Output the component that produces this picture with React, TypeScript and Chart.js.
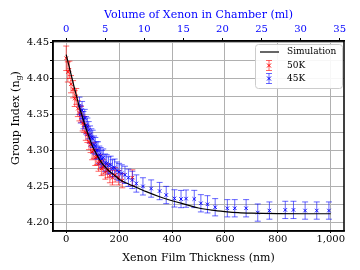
import React, { useEffect, useRef } from 'react';
import { Chart, registerables } from 'chart.js';

Chart.register(...registerables);

// ---- data ----
const simX = [0, 10, 20, 30, 40, 50, 60, 70, 80, 90, 100, 110, 120, 130, 140, 150, 160, 170, 180, 190, 200, 225, 250, 275, 300, 350, 400, 450, 500, 550, 600, 650, 700, 800, 900, 1000];
const simY = [4.433, 4.418, 4.403, 4.388, 4.374, 4.360, 4.348, 4.336, 4.325, 4.315, 4.305, 4.298, 4.291, 4.285, 4.280, 4.276, 4.272, 4.269, 4.266, 4.263, 4.260, 4.255, 4.251, 4.247, 4.243, 4.236, 4.230, 4.225, 4.220, 4.217, 4.215, 4.2135, 4.2128, 4.2122, 4.212, 4.212];

const k50X = [0, 6, 12, 18, 26, 32, 38, 44, 50, 56, 62, 68, 74, 80, 86, 92, 98, 104, 110, 116, 122, 128, 134, 140, 148, 156, 165, 175, 185, 198, 212, 250];
const k50Y = [4.428, 4.409, 4.412, 4.392, 4.385, 4.372, 4.375, 4.358, 4.352, 4.350, 4.338, 4.336, 4.325, 4.322, 4.312, 4.308, 4.298, 4.300, 4.290, 4.291, 4.282, 4.284, 4.275, 4.277, 4.270, 4.272, 4.265, 4.262, 4.266, 4.262, 4.258, 4.262];
const k50Err = [0.017, 0.014, 0.012, 0.012, 0.012, 0.011, 0.011, 0.011, 0.011, 0.011, 0.011, 0.011, 0.011, 0.011, 0.011, 0.011, 0.011, 0.011, 0.011, 0.011, 0.011, 0.010, 0.010, 0.010, 0.010, 0.010, 0.010, 0.010, 0.010, 0.010, 0.010, 0.011];

const k45X = [50, 55, 60, 65, 70, 75, 80, 85, 90, 95, 100, 105, 110, 115, 120, 125, 130, 135, 140, 147, 153, 160, 168, 175, 183, 192, 200, 210, 222, 235, 250, 265, 290, 321, 353, 378, 409, 434, 453, 484, 509, 534, 563, 609, 637, 680, 724, 768, 828, 859, 903, 947, 993];
const k45Y = [4.362, 4.350, 4.356, 4.342, 4.345, 4.335, 4.333, 4.328, 4.322, 4.318, 4.316, 4.308, 4.306, 4.300, 4.300, 4.294, 4.292, 4.288, 4.290, 4.283, 4.282, 4.279, 4.280, 4.275, 4.276, 4.272, 4.270, 4.268, 4.266, 4.262, 4.259, 4.254, 4.250, 4.247, 4.2435, 4.238, 4.2333, 4.2324, 4.233, 4.2325, 4.2265, 4.2251, 4.221, 4.2196, 4.2196, 4.2196, 4.2136, 4.2164, 4.2173, 4.2173, 4.2164, 4.2164, 4.2164];
const k45Err = [0.012, 0.012, 0.012, 0.012, 0.012, 0.012, 0.012, 0.012, 0.012, 0.012, 0.012, 0.012, 0.012, 0.012, 0.012, 0.012, 0.012, 0.012, 0.012, 0.012, 0.012, 0.012, 0.012, 0.012, 0.012, 0.012, 0.012, 0.012, 0.012, 0.012, 0.012, 0.012, 0.012, 0.012, 0.012, 0.012, 0.012, 0.012, 0.012, 0.012, 0.012, 0.012, 0.012, 0.012, 0.012, 0.012, 0.012, 0.012, 0.012, 0.012, 0.012, 0.012, 0.012];

const seriesLabels = ['Simulation', '50K', '45K'];
const xTitle = 'Xenon Film Thickness (nm)';
const x2Title = 'Volume of Xenon in Chamber (ml)';
const yTitleMain = 'Group Index (n';
const yTitleSub = 'g';
const yTitleEnd = ')';
const mlPerNm = 0.03386;

const SERIF = "'DejaVu Serif', serif";

const errorBarPlugin = {
  id: 'errorBars',
  beforeDatasetsDraw(chart: any) {
    const { ctx, chartArea, scales } = chart;
    const xs = scales.x;
    const ys = scales.y;
    ctx.save();
    ctx.beginPath();
    ctx.rect(chartArea.left, chartArea.top, chartArea.right - chartArea.left, chartArea.bottom - chartArea.top);
    ctx.clip();
    chart.data.datasets.forEach((ds: any) => {
      if (!ds.errors) return;
      ctx.strokeStyle = ds.errColor;
      ctx.lineWidth = 1;
      ds.data.forEach((p: any, i: number) => {
        const e = ds.errors[i];
        const px = xs.getPixelForValue(p.x);
        const y1 = ys.getPixelForValue(p.y - e);
        const y2 = ys.getPixelForValue(p.y + e);
        ctx.beginPath();
        ctx.moveTo(px, y1);
        ctx.lineTo(px, y2);
        ctx.moveTo(px - 3, y1);
        ctx.lineTo(px + 3, y1);
        ctx.moveTo(px - 3, y2);
        ctx.lineTo(px + 3, y2);
        ctx.stroke();
      });
    });
    ctx.restore();
  },
};

const frameLegendPlugin = {
  id: 'frameLegend',
  afterDraw(chart: any) {
    const { ctx, chartArea } = chart;
    ctx.save();
    // frame
    ctx.strokeStyle = '#000';
    ctx.lineWidth = 1.5;
    ctx.strokeRect(chartArea.left, chartArea.top, chartArea.right - chartArea.left, chartArea.bottom - chartArea.top);

    // y title with subscript
    ctx.fillStyle = '#000';
    ctx.translate(15, 118);
    ctx.rotate(-Math.PI / 2);
    const mainFont = `11px ${SERIF}`;
    const subFont = `8px ${SERIF}`;
    ctx.font = mainFont;
    const w1 = ctx.measureText(yTitleMain).width;
    const w3 = ctx.measureText(yTitleEnd).width;
    ctx.font = subFont;
    const w2 = ctx.measureText(yTitleSub).width;
    const total = w1 + w2 + w3;
    let cx = -total / 2;
    ctx.textBaseline = 'alphabetic';
    ctx.textAlign = 'left';
    ctx.font = mainFont;
    ctx.fillText(yTitleMain, cx, 4);
    cx += w1;
    ctx.font = subFont;
    ctx.fillText(yTitleSub, cx, 6);
    cx += w2;
    ctx.font = mainFont;
    ctx.fillText(yTitleEnd, cx, 4);
    ctx.restore();

    // legend
    ctx.save();
    const bx = 255, by = 44, bw = 87, bh = 44;
    ctx.beginPath();
    ctx.roundRect(bx + 0.5, by + 0.5, bw, bh, 3);
    ctx.fillStyle = 'rgba(255,255,255,0.9)';
    ctx.fill();
    ctx.strokeStyle = '#cccccc';
    ctx.lineWidth = 1;
    ctx.stroke();

    ctx.font = `9px ${SERIF}`;
    ctx.fillStyle = '#000';
    ctx.textBaseline = 'middle';
    ctx.textAlign = 'left';
    const rows = [52, 65.5, 78.5];
    // simulation line
    ctx.strokeStyle = '#000';
    ctx.lineWidth = 1.2;
    ctx.beginPath();
    ctx.moveTo(260, rows[0]);
    ctx.lineTo(279, rows[0]);
    ctx.stroke();
    ctx.fillText(seriesLabels[0], 287, rows[0]);
    const icons = [
      { c: 'rgba(255,0,0,0.6)', m: 'rgba(255,0,0,1)', y: rows[1], t: seriesLabels[1] },
      { c: 'rgba(0,0,255,0.6)', m: 'rgba(0,0,255,1)', y: rows[2], t: seriesLabels[2] },
    ];
    icons.forEach((ic) => {
      const px = 269;
      ctx.strokeStyle = ic.c;
      ctx.lineWidth = 1;
      ctx.beginPath();
      ctx.moveTo(px, ic.y - 5);
      ctx.lineTo(px, ic.y + 5);
      ctx.moveTo(px - 3, ic.y - 5);
      ctx.lineTo(px + 3, ic.y - 5);
      ctx.moveTo(px - 3, ic.y + 5);
      ctx.lineTo(px + 3, ic.y + 5);
      ctx.stroke();
      ctx.strokeStyle = ic.m;
      ctx.beginPath();
      ctx.moveTo(px - 2, ic.y - 2);
      ctx.lineTo(px + 2, ic.y + 2);
      ctx.moveTo(px - 2, ic.y + 2);
      ctx.lineTo(px + 2, ic.y - 2);
      ctx.stroke();
      ctx.fillStyle = '#000';
      ctx.fillText(ic.t, 287, ic.y);
    });
    ctx.restore();
  },
};

export default function App() {
  const ref = useRef<HTMLCanvasElement>(null);

  useEffect(() => {
    document.body.style.margin = '0';
    const canvas = ref.current;
    if (!canvas) return;

    const simData = simX.map((x, i) => ({ x, y: simY[i] }));
    const d50 = k50X.map((x, i) => ({ x, y: k50Y[i] }));
    const d45 = k45X.map((x, i) => ({ x, y: k45Y[i] }));

    const chart = new Chart(canvas, {
      type: 'scatter',
      data: {
        datasets: [
          {
            type: 'line',
            label: seriesLabels[0],
            data: simData,
            borderColor: '#000',
            borderWidth: 1.2,
            pointRadius: 0,
            cubicInterpolationMode: 'monotone',
            fill: false,
            order: 0,
          } as any,
          {
            label: seriesLabels[1],
            data: d50,
            errors: k50Err,
            errColor: 'rgba(255,0,0,0.6)',
            pointStyle: 'crossRot',
            pointRadius: 2.5,
            borderWidth: 1,
            borderColor: 'rgba(255,0,0,0.9)',
            backgroundColor: 'rgba(255,0,0,0.9)',
            order: 2,
          } as any,
          {
            label: seriesLabels[2],
            data: d45,
            errors: k45Err,
            errColor: 'rgba(0,0,255,0.6)',
            pointStyle: 'crossRot',
            pointRadius: 2.5,
            borderWidth: 1,
            borderColor: 'rgba(0,0,255,0.9)',
            backgroundColor: 'rgba(0,0,255,0.9)',
            order: 1,
          } as any,
        ],
      },
      options: {
        animation: false,
        responsive: false,
        events: [],
        layout: { padding: { left: 0, right: 16, top: 0, bottom: 0 } },
        plugins: { legend: { display: false }, tooltip: { enabled: false } },
        scales: {
          x: {
            type: 'linear',
            position: 'bottom',
            min: -50,
            max: 1050,
            afterFit: (s: any) => { s.height = 39; },
            ticks: { stepSize: 200, includeBounds: false, color: '#000', padding: 0, maxRotation: 0, font: { family: SERIF, size: 10 } },
            grid: { color: '#b0b0b0', lineWidth: 1, tickLength: 2, tickColor: '#000' },
            border: { color: '#000', width: 1.5 },
            title: { display: true, text: xTitle, color: '#000', font: { family: SERIF, size: 11 }, padding: { top: 0, bottom: 5 } },
          },
          x2: {
            type: 'linear',
            axis: 'x',
            position: 'top',
            min: -50 * mlPerNm,
            max: 1050 * mlPerNm,
            afterFit: (s: any) => { s.height = 41; },
            ticks: { stepSize: 5, includeBounds: false, color: '#0000ff', padding: 3, maxRotation: 0, font: { family: SERIF, size: 10 } },
            grid: { drawOnChartArea: false, tickLength: 3, tickColor: '#000' },
            border: { color: '#000', width: 1.5 },
            title: { display: true, text: x2Title, color: '#0000ff', font: { family: SERIF, size: 11 }, padding: { top: 9, bottom: 0 } },
          },
          y: {
            type: 'linear',
            position: 'left',
            min: 4.188,
            max: 4.452,
            afterFit: (s: any) => { s.width = 53; },
            ticks: {
              stepSize: 0.025,
              includeBounds: false,
              color: '#000',
              padding: 1,
              font: { family: SERIF, size: 10 },
              callback: (v: any) => {
                const n = Number(v);
                return Math.abs(n * 20 - Math.round(n * 20)) < 1e-6 ? n.toFixed(2) : '';
              },
            },
            grid: { color: '#b0b0b0', lineWidth: 1, tickLength: 3, tickColor: '#000' },
            border: { color: '#000', width: 1.5 },
          },
        },
      },
      plugins: [errorBarPlugin, frameLegendPlugin],
    } as any);

    return () => chart.destroy();
  }, []);

  return (
    <div style={{ width: 360, height: 270 }}>
      <canvas ref={ref} width={360} height={270} style={{ width: 360, height: 270, display: 'block' }} />
    </div>
  );
}
